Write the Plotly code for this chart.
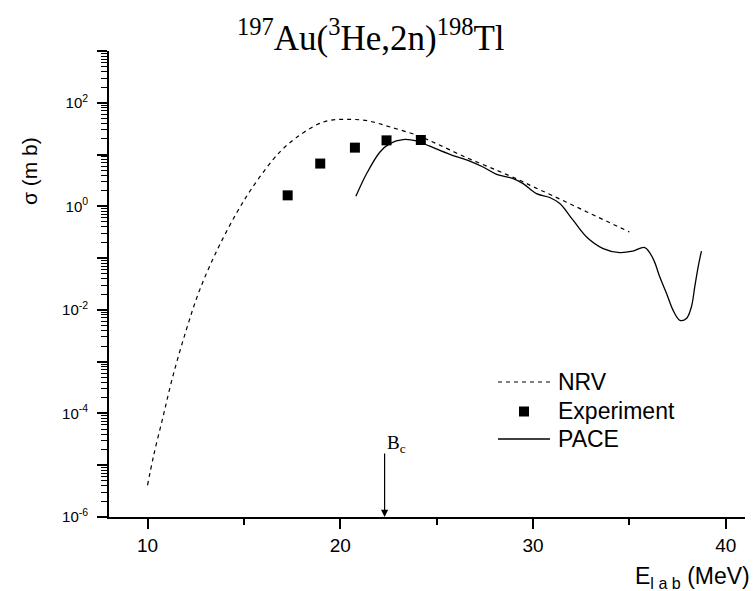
import numpy as np
import plotly.graph_objects as go

# NRV calculation (dotted curve)
nrv_energy = [10.0, 10.3, 10.8, 11.3, 12.0, 12.7, 13.6, 14.6, 15.4, 16.5, 17.0, 17.7,
              18.8, 19.5, 20.3, 21.4, 22.6, 24.0, 25.0, 26.5, 28.1, 29.3, 30.0, 31.0,
              32.8, 35.0]
nrv_sigma = [4.1e-6, 1.45e-5, 8.5e-5, 5.0e-4, 4.0e-3, 2.4e-2, 0.14, 0.72, 2.2, 7.9, 12.6, 21,
             38, 46, 48, 45, 34, 23.4, 16.2, 8.9, 5.0, 3.2, 2.4, 1.62,
             0.78, 0.32]

# PACE calculation (solid curve)
pace_energy = [20.81, 21.37, 22.06, 22.57, 23.26, 23.96, 24.65, 25.69, 26.72, 27.41,
               28.11, 28.97, 29.49, 30.18, 30.87, 31.39, 32.08, 32.78, 33.64, 34.50,
               35.19, 35.80, 36.23, 36.58, 36.93, 37.27, 37.62, 37.96, 38.22, 38.39,
               38.57, 38.74]
pace_sigma = [1.56, 4.3, 11.2, 16.3, 19.5, 18.3, 14.5, 10.1, 7.5, 5.75,
              4.16, 3.44, 2.75, 1.76, 1.48, 1.13, 0.54, 0.256, 0.153, 0.128,
              0.137, 0.16, 0.098, 0.043, 0.0207, 0.0098, 0.0063, 0.0068, 0.0115, 0.0275,
              0.068, 0.137]

# Measured cross sections
exp_energy = [17.27, 18.96, 20.76, 22.40, 24.18]
exp_sigma = [1.63, 6.7, 13.6, 18.8, 19.1]

# Coulomb barrier
bc_energy = 22.3

x_major = [10, 20, 30, 40]
x_minor = [15, 25, 35]
y_exponents = list(range(-6, 4))
y_labels = [f"10<sup>{e}</sup>" if e % 2 == 0 and e < 3 else "" for e in y_exponents]

W, H = 753, 591
ML, MR, MT, MB = 109, 8, 51, 74
PW, PH = W - ML - MR, H - MT - MB


def px(x):
    return (x - ML) / PW


def py(y):
    return (H - MB - y) / PH


sans = "Liberation Sans"
serif = "Liberation Serif"
dash = "4px,4px"

fig = go.Figure()
fig.add_trace(go.Scatter(x=nrv_energy, y=nrv_sigma, mode="lines",
                         line=dict(color="black", width=1.2, dash=dash, shape="spline"),
                         name="NRV", showlegend=False))
fig.add_trace(go.Scatter(x=pace_energy, y=pace_sigma, mode="lines",
                         line=dict(color="black", width=1.3, shape="spline"),
                         name="PACE", showlegend=False))
fig.add_trace(go.Scatter(x=exp_energy, y=exp_sigma, mode="markers",
                         marker=dict(symbol="square", size=10, color="black"),
                         name="Experiment", showlegend=False))

minor_y = [m * 10.0 ** e for e in range(-6, 3) for m in range(2, 10)]

fig.update_xaxes(range=[8, 41], showline=True, linecolor="black", linewidth=1.8,
                 ticks="outside", ticklen=10, tickwidth=1.5, tickcolor="black",
                 tickmode="array", tickvals=x_major,
                 minor=dict(tickmode="array", tickvals=x_minor, ticks="outside",
                            ticklen=6, tickwidth=1.5, tickcolor="black"),
                 showgrid=False, zeroline=False,
                 tickfont=dict(family=sans, size=19, color="black"))
fig.update_yaxes(type="log", range=[-6, 3], showline=True, linecolor="black", linewidth=1.8,
                 ticks="outside", ticklen=10, tickwidth=1.5, tickcolor="black",
                 tickmode="array", tickvals=[10.0 ** e for e in y_exponents], ticktext=y_labels,
                 minor=dict(tickmode="array", tickvals=minor_y, ticks="outside",
                            ticklen=6, tickwidth=1.2, tickcolor="black"),
                 ticklabelstandoff=6,
                 showgrid=False, zeroline=False,
                 tickfont=dict(family=sans, size=15, color="black"))

annotations = [
    dict(text="<sup>197</sup>Au(<sup>3</sup>He,2n)<sup>198</sup>Tl", xref="paper", yref="paper",
         x=px(371), y=py(36), xanchor="center", yanchor="middle", showarrow=False,
         font=dict(family=serif, size=35, color="black")),
    dict(text="σ (m b)", xref="paper", yref="paper", x=px(29), y=py(171), textangle=-90,
         xanchor="center", yanchor="middle", showarrow=False,
         font=dict(family=sans, size=21, color="black")),
    dict(text="E<sub>l a b</sub> (MeV)", xref="paper", yref="paper", x=px(752), y=py(561),
         xanchor="right", yanchor="top", showarrow=False,
         font=dict(family=sans, size=23, color="black")),
    dict(text="", x=bc_energy, y=-6, xref="x", yref="y", showarrow=True,
         ax=0, ay=-65, axref="pixel", ayref="pixel", arrowhead=2, arrowsize=1.2,
         arrowwidth=1.2, arrowcolor="black"),
    dict(text="B<sub>c</sub>", xref="paper", yref="paper", x=px(385), y=py(444),
         xanchor="left", yanchor="middle", showarrow=False,
         font=dict(family=serif, size=19, color="black")),
]

shapes = []
legend_rows = [("NRV", 382), ("Experiment", 411), ("PACE", 439)]
for label, yy in legend_rows:
    annotations.append(dict(text=label, xref="paper", yref="paper", x=px(556), y=py(yy),
                            xanchor="left", yanchor="middle", showarrow=False,
                            font=dict(family=sans, size=23, color="black")))
shapes.append(dict(type="line", xref="paper", yref="paper", x0=px(498), x1=px(550),
                   y0=py(382), y1=py(382), line=dict(color="black", width=1.2, dash=dash)))
shapes.append(dict(type="rect", xref="paper", yref="paper", x0=px(519), x1=px(529),
                   y0=py(416.5), y1=py(406.5), line=dict(width=0), fillcolor="black"))
shapes.append(dict(type="line", xref="paper", yref="paper", x0=px(498), x1=px(550),
                   y0=py(439), y1=py(439), line=dict(color="black", width=1.3)))

fig.update_layout(width=W, height=H, margin=dict(l=ML, r=MR, t=MT, b=MB),
                  plot_bgcolor="white", paper_bgcolor="white",
                  annotations=annotations, shapes=shapes, showlegend=False)

fig.write_html("out.html")
